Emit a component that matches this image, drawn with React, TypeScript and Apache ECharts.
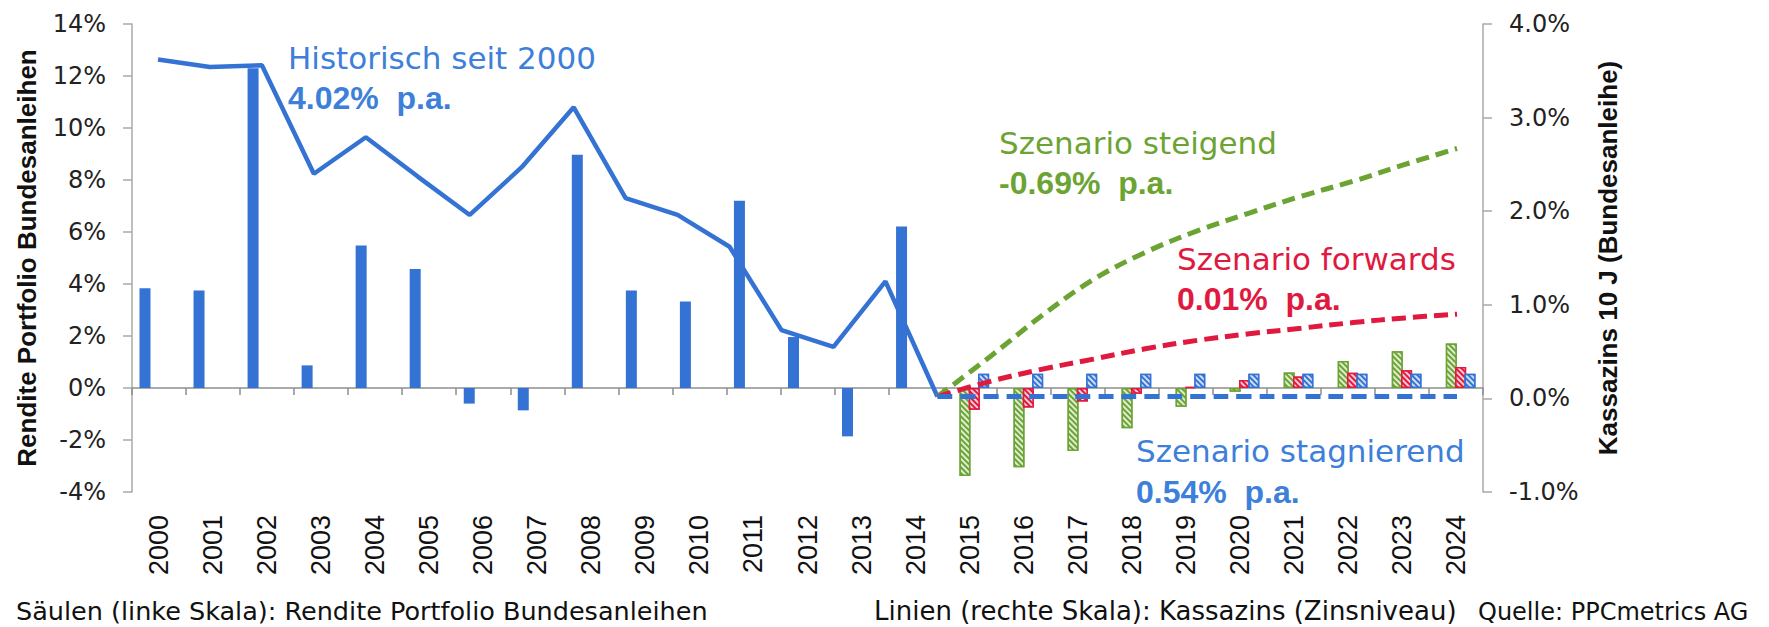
import React, { useEffect, useRef } from "react";
import * as echarts from "echarts";

// ---- Data ----
const years = [
  "2000", "2001", "2002", "2003", "2004", "2005", "2006", "2007", "2008", "2009",
  "2010", "2011", "2012", "2013", "2014", "2015", "2016", "2017", "2018", "2019",
  "2020", "2021", "2022", "2023", "2024",
];
// year-end points of the interest-rate lines (secondary, hidden category axis)
const yearEnds = [
  "E1999", "E2000", "E2001", "E2002", "E2003", "E2004", "E2005", "E2006", "E2007",
  "E2008", "E2009", "E2010", "E2011", "E2012", "E2013", "E2014", "E2015", "E2016",
  "E2017", "E2018", "E2019", "E2020", "E2021", "E2022", "E2023", "E2024",
];

// Columns (left scale): return of Bund portfolio, %
const returnHistoric = [3.84, 3.75, 12.3, 0.87, 5.48, 4.58, -0.6, -0.86, 8.97, 3.75, 3.33, 7.2, 1.96, -1.86, 6.21];
const returnSteigend = [-3.38, -3.05, -2.42, -1.55, -0.72, -0.14, 0.6, 1.04, 1.41, 1.71];
const returnForwards = [-0.84, -0.75, -0.52, -0.22, 0.03, 0.31, 0.44, 0.59, 0.68, 0.81];
const returnStagnierend = [0.55, 0.55, 0.55, 0.55, 0.55, 0.55, 0.55, 0.55, 0.55, 0.55];

// Lines (right scale): 10y spot rate, %
const yieldHistoric = [3.62, 3.54, 3.56, 2.4, 2.79, 2.37, 1.96, 2.47, 3.11, 2.14, 1.96, 1.62, 0.73, 0.55, 1.25, 0.02];
const yieldSteigend = [0.02, 0.44, 0.88, 1.27, 1.56, 1.79, 1.98, 2.16, 2.32, 2.5, 2.67];
const yieldForwards = [0.02, 0.18, 0.31, 0.42, 0.53, 0.62, 0.69, 0.75, 0.81, 0.86, 0.9];
const yieldStagnierend = [0.02, 0.02, 0.02, 0.02, 0.02, 0.02, 0.02, 0.02, 0.02, 0.02, 0.02];

const leftTicksFmt = (v: number) => `${v}%`;
const rightTicksFmt = (v: number) => `${v.toFixed(1)}%`;

const BLUE = "#3473D3";
const BLUE_TXT = "#3D7FD9";
const GREEN = "#6CA434";
const RED = "#E0193F";

const pad = (n: number) => Array(n).fill(null);

const hatch = {
  symbol: "rect",
  symbolSize: 1,
  color: "rgba(255,255,255,0.78)",
  dashArrayX: [1, 0],
  dashArrayY: [2, 2],
  rotation: Math.PI / 4,
};

const REG = "DejaVu Sans";
const ARIAL = "Liberation Sans";

export default function App() {
  const ref = useRef<HTMLDivElement>(null);
  useEffect(() => {
    document.body.style.margin = "0";
    const chart = echarts.init(ref.current!, null, { renderer: "svg" });
    const scenBar = (name: string, color: string, vals: number[]) => ({
      name,
      type: "bar",
      xAxisIndex: 0,
      yAxisIndex: 0,
      barWidth: 11,
      barGap: "-15%",
      data: [...pad(15), ...vals],
      itemStyle: { color, borderColor: color, borderWidth: 1.5, decal: hatch },
    });
    const scenLine = (name: string, color: string, vals: number[], dash: number[]) => ({
      name,
      type: "line",
      xAxisIndex: 1,
      yAxisIndex: 1,
      data: [...pad(15), ...vals],
      smooth: 0.35,
      symbol: "none",
      lineStyle: { color, width: 5, type: dash },
      z: 5,
    });
    const text = (t: string, x: number, y: number, color: string, bold: boolean) => ({
      type: "text",
      x,
      y,
      silent: true,
      style: {
        text: t,
        fill: color,
        fontFamily: bold ? ARIAL : REG,
        fontWeight: bold ? "bold" : "normal",
        fontSize: bold ? 32 : 31,
        align: "left",
        verticalAlign: "middle",
      },
    });
    chart.setOption({
      animation: false,
      grid: { left: 132, right: 286, top: 24, bottom: 135 },
      xAxis: [
        {
          type: "category",
          data: years,
          position: "bottom",
          axisLine: { show: true, onZero: true, onZeroAxisIndex: 0, lineStyle: { color: "#8e8e8e", width: 1.5 } },
          axisTick: { show: true, length: 7, lineStyle: { color: "#8e8e8e", width: 1.5 } },
          axisLabel: { show: false },
          splitLine: { show: false },
        },
        {
          type: "category",
          data: yearEnds,
          show: false,
          boundaryGap: true,
        },
        {
          type: "category",
          data: years,
          position: "bottom",
          axisLine: { show: false, onZero: false },
          axisTick: { show: false },
          splitLine: { show: false },
          axisLabel: { rotate: 90, margin: 23, fontFamily: ARIAL, fontSize: 27, color: "#111" },
        },
      ],
      yAxis: [
        {
          type: "value",
          min: -4,
          max: 14,
          interval: 2,
          position: "left",
          axisLine: { show: true, lineStyle: { color: "#a8a8a8", width: 1.5 } },
          axisTick: { show: true, length: 9, lineStyle: { color: "#a8a8a8", width: 1.5 } },
          splitLine: { show: false },
          axisLabel: { formatter: leftTicksFmt, margin: 26, fontFamily: REG, fontSize: 24, color: "#222" },
          name: "Rendite Portfolio Bundesanleihen",
          nameLocation: "middle",
          nameRotate: 90,
          nameGap: 92,
          nameTextStyle: { fontFamily: ARIAL, fontWeight: "bold", fontSize: 26, color: "#111" },
        },
        {
          type: "value",
          min: -1,
          max: 4,
          interval: 1,
          position: "right",
          axisLine: { show: true, lineStyle: { color: "#a8a8a8", width: 1.5 } },
          axisTick: { show: true, length: 9, lineStyle: { color: "#a8a8a8", width: 1.5 } },
          splitLine: { show: false },
          axisLabel: { formatter: rightTicksFmt, margin: 26, fontFamily: REG, fontSize: 24, color: "#222" },
          name: "Kassazins 10 J (Bundesanleihe)",
          nameLocation: "middle",
          nameRotate: 90,
          nameGap: 112,
          nameTextStyle: { fontFamily: ARIAL, fontWeight: "bold", fontSize: 26, color: "#111" },
        },
      ],
      series: [
        {
          name: "Historisch",
          type: "bar",
          xAxisIndex: 0,
          yAxisIndex: 0,
          barWidth: 11,
          barGap: "-15%",
          data: [...returnHistoric, ...pad(10)],
          itemStyle: { color: BLUE },
        },
        scenBar("Szenario steigend", GREEN, returnSteigend),
        scenBar("Szenario forwards", RED, returnForwards),
        scenBar("Szenario stagnierend", BLUE, returnStagnierend),
        {
          name: "Kassazins historisch",
          type: "line",
          xAxisIndex: 1,
          yAxisIndex: 1,
          data: [...yieldHistoric, ...pad(10)],
          symbol: "none",
          lineStyle: { color: BLUE, width: 4.5 },
          z: 5,
        },
        scenLine("Kassazins steigend", GREEN, yieldSteigend, [13, 7]),
        scenLine("Kassazins forwards", RED, yieldForwards, [14, 7]),
        scenLine("Kassazins stagnierend", BLUE, yieldStagnierend, [15, 8]),
      ],
      graphic: [
        text("Historisch seit 2000", 288, 58, BLUE_TXT, false),
        text("4.02%  p.a.", 288, 98, BLUE_TXT, true),
        text("Szenario steigend", 999, 143, GREEN, false),
        text("-0.69%  p.a.", 999, 183, GREEN, true),
        text("Szenario forwards", 1177, 259, RED, false),
        text("0.01%  p.a.", 1177, 299, RED, true),
        text("Szenario stagnierend", 1136, 451, BLUE_TXT, false),
        text("0.54%  p.a.", 1136, 492, BLUE_TXT, true),
        {
          type: "text",
          x: 16,
          y: 611,
          silent: true,
          style: { text: "Säulen (linke Skala): Rendite Portfolio Bundesanleihen", fill: "#111", fontFamily: REG, fontSize: 25.5, align: "left", verticalAlign: "middle" },
        },
        {
          type: "text",
          x: 874,
          y: 611,
          silent: true,
          style: { text: "Linien (rechte Skala): Kassazins (Zinsniveau)", fill: "#111", fontFamily: REG, fontSize: 26, align: "left", verticalAlign: "middle" },
        },
        {
          type: "text",
          x: 1478,
          y: 612,
          silent: true,
          style: { text: "Quelle: PPCmetrics AG", fill: "#111", fontFamily: REG, fontSize: 24, align: "left", verticalAlign: "middle" },
        },
      ],
    });
    return () => chart.dispose();
  }, []);
  return <div ref={ref} style={{ width: 1769, height: 627 }} />;
}
